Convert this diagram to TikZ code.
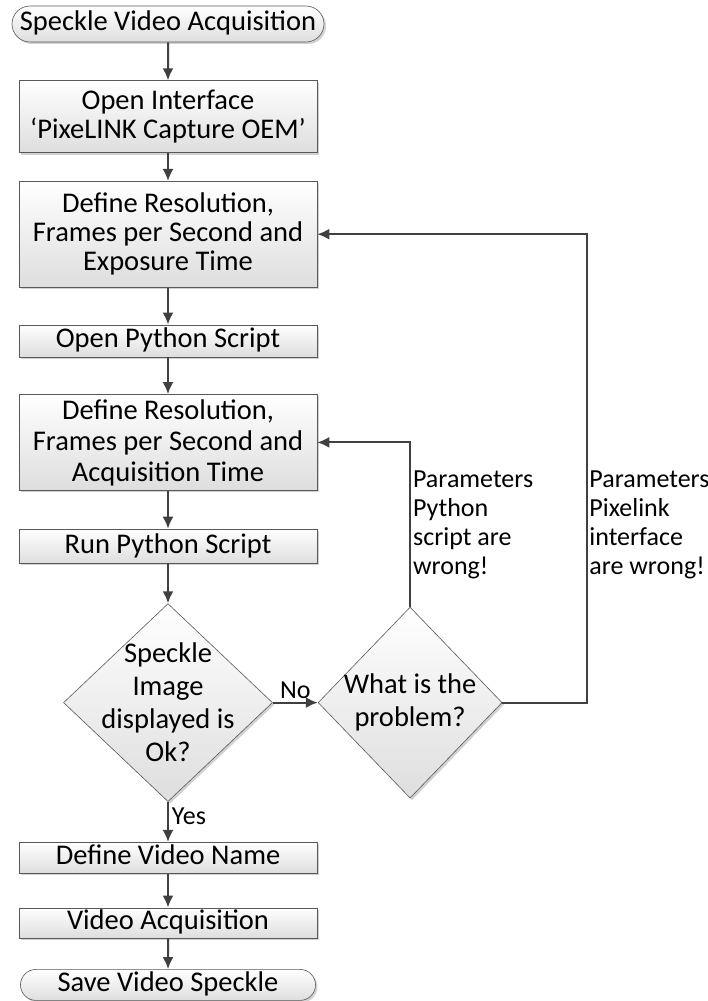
\documentclass[tikz,border=0pt]{standalone}
\usepackage{fontspec}
\setmainfont{Carlito}
\usetikzlibrary{positioning}
\usetikzlibrary{shapes.geometric}
\usetikzlibrary{shapes.misc}
\usetikzlibrary{shadows}
\usetikzlibrary{arrows.meta}

\begin{document}
\begin{tikzpicture}[
    font=\fontsize{28.5}{29}\selectfont,
    node distance=37pt and 45pt,
    box/.style={draw=black!65,line width=0.6pt,top color=white,bottom color=black!13,
      drop shadow={shadow xshift=2pt,shadow yshift=-2pt,fill=black!18,opacity=1},
      minimum width=298pt,inner sep=1pt,align=center},
    oneline/.style={text height=20pt,text depth=6pt},
    term/.style={box,oneline,rounded rectangle,minimum height=31pt},
    decision/.style={box,diamond,inner sep=0pt,minimum width=209pt,minimum height=198pt},
    arr/.style={draw=black!75,line width=2pt,-{Latex[length=12pt,width=11pt]}},
    note/.style={align=left,inner sep=2pt,anchor=west,font=\fontsize{26}{29}\selectfont}
    ]

    \useasboundingbox (-168pt,24pt) rectangle (540pt,-977pt);

    \node[term, minimum width=314pt, minimum height=36pt] (start) {Speckle Video Acquisition};
    \node[box, below=38pt of start, minimum height=72pt] (iface) {Open Interface\\‘PixeLINK Capture OEM’};
    \node[box, below=28pt of iface, minimum height=106pt] (camres) {Define Resolution,\\Frames per Second and\\Exposure Time};
    \node[box, oneline, below=37pt of camres, minimum height=32pt] (openpy) {Open Python Script};
    \node[box, below=37pt of openpy, minimum height=96pt, font=\fontsize{28.5}{31}\selectfont] (pyres) {Define Resolution,\\Frames per Second and\\Acquisition Time};
    \node[box, oneline, below=38pt of pyres, minimum height=34pt] (runpy) {Run Python Script};

    \node[decision, below=40pt of runpy,
      label={[align=center,font=\fontsize{28.5}{33}\selectfont]center:Speckle\\Image\\displayed is\\Ok?}] (ok) {};
    \node[decision, right=45pt of ok, minimum width=184pt, minimum height=191pt,
      label={[align=center,font=\fontsize{28.5}{33}\selectfont]center:What is the\\problem?}] (problem) {};

    \node[box, oneline, below=40pt of ok, minimum height=31pt] (name) {Define Video Name};
    \node[box, oneline, below=34pt of name, minimum height=30pt] (acq) {Video Acquisition};
    \node[term, below=31pt of acq, minimum width=297pt] (save) {Save Video Speckle};

    \coordinate[right=85pt of problem.east] (loopR);

    \path (start) edge[arr] (iface)
    (iface) edge[arr] (camres)
    (camres) edge[arr] (openpy)
    (openpy) edge[arr] (pyres)
    (pyres) edge[arr] (runpy)
    (runpy) edge[arr] (ok)

    (ok) edge[arr] node[above, inner sep=3pt, font=\fontsize{26}{29}\selectfont] {No} (problem)
    (ok) edge[arr] node[right, pos=0.37, inner sep=3pt, font=\fontsize{26}{29}\selectfont] {Yes} (name)
    (name) edge[arr] (acq)
    (acq) edge[arr] (save)
    ;

    \draw[arr] (problem.north) |- node[note, pos=0.25] {Parameters\\Python\\script are\\wrong!} (pyres.east);
    \draw[arr] (problem.east) -- (loopR) |- node[note, pos=0.19, inner sep=1pt] {Parameters\\Pixelink\\interface\\are wrong!} (camres.east);

  \end{tikzpicture}
\end{document}
